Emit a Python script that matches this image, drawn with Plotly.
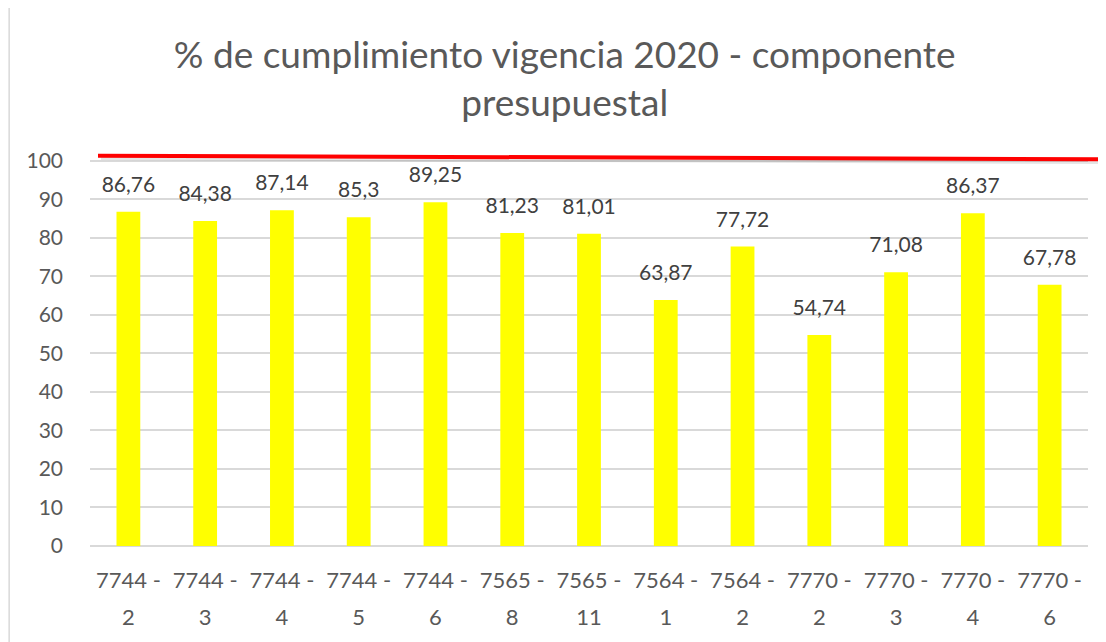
import plotly.graph_objects as go

cat_line1 = ["7744 -", "7744 -", "7744 -", "7744 -", "7744 -", "7565 -", "7565 -",
             "7564 -", "7564 -", "7770 -", "7770 -", "7770 -", "7770 -"]
cat_line2 = ["2", "3", "4", "5", "6", "8", "11", "1", "2", "2", "3", "4", "6"]
values = [86.76, 84.38, 87.14, 85.3, 89.25, 81.23, 81.01, 63.87, 77.72, 54.74, 71.08, 86.37, 67.78]
target = 100
title = "% de cumplimiento vigencia 2020 - componente<br>presupuestal"

labels = [("%g" % v).replace(".", ",") for v in values]
xs = list(range(len(values)))

fig = go.Figure()
fig.add_trace(go.Bar(
    x=xs, y=values,
    marker=dict(color="#FFFF00", line=dict(width=0)),
    hoverinfo="skip",
))
# data labels (offset above bar via invisible marker)
fig.add_trace(go.Scatter(
    x=xs, y=values, text=labels, mode="markers+text", textposition="top center",
    marker=dict(size=22, opacity=0), textfont=dict(size=21, color="#404040", family="Lato"),
    cliponaxis=False, hoverinfo="skip", showlegend=False,
))
# invisible trace to carry second line of category labels
fig.add_trace(go.Scatter(x=xs, y=[0] * len(xs), xaxis="x2", mode="markers",
                         marker=dict(opacity=0), hoverinfo="skip", showlegend=False))

# target line (hand-drawn, slightly sloped) with soft shadow
fig.add_shape(type="line", xref="paper", yref="y", x0=0.011, x1=1.012,
              y0=target + 0.8, y1=target - 0.2,
              line=dict(color="rgba(0,0,0,0.10)", width=5))
fig.add_shape(type="line", xref="paper", yref="y", x0=0.008, x1=1.01,
              y0=target + 1.3, y1=target + 0.4,
              line=dict(color="#FF0000", width=4))
# chart border (left edge visible)
fig.add_shape(type="rect", xref="paper", yref="paper", x0=-0.081, x1=1.05, y0=-0.4, y1=1.4,
              line=dict(color="#D9D9D9", width=1.5), layer="below")

fig.update_layout(
    width=1098, height=634,
    margin=dict(l=82, r=18, t=145, b=92),
    paper_bgcolor="white", plot_bgcolor="white",
    bargap=0.69, showlegend=False,
    title=dict(text=title, x=0.507, xref="container", xanchor="center", y=0.905, yanchor="top",
               font=dict(size=37, color="#595959", family="Lato")),
    font=dict(family="Lato", color="#595959", size=18),
)
common = dict(tickmode="array", tickvals=xs, range=[-0.5, len(xs) - 0.5],
              showgrid=False, showline=False, zeroline=False, ticks="",
              tickfont=dict(size=22, color="#595959", family="Lato"))
fig.update_layout(
    xaxis=dict(ticktext=cat_line1, ticklabelstandoff=19, **common),
    xaxis2=dict(ticktext=cat_line2, ticklabelstandoff=56, overlaying="x", side="bottom",
                matches="x", **common),
)
fig.update_yaxes(range=[0, 102], tickvals=list(range(0, 101, 10)), showgrid=True,
                 gridcolor="#D9D9D9", gridwidth=1.5, zeroline=True, zerolinecolor="#D9D9D9",
                 zerolinewidth=1.5, showline=False, ticks="",
                 tickfont=dict(size=21, color="#595959", family="Lato"), ticklabelstandoff=26)

fig.write_html("out.html")
